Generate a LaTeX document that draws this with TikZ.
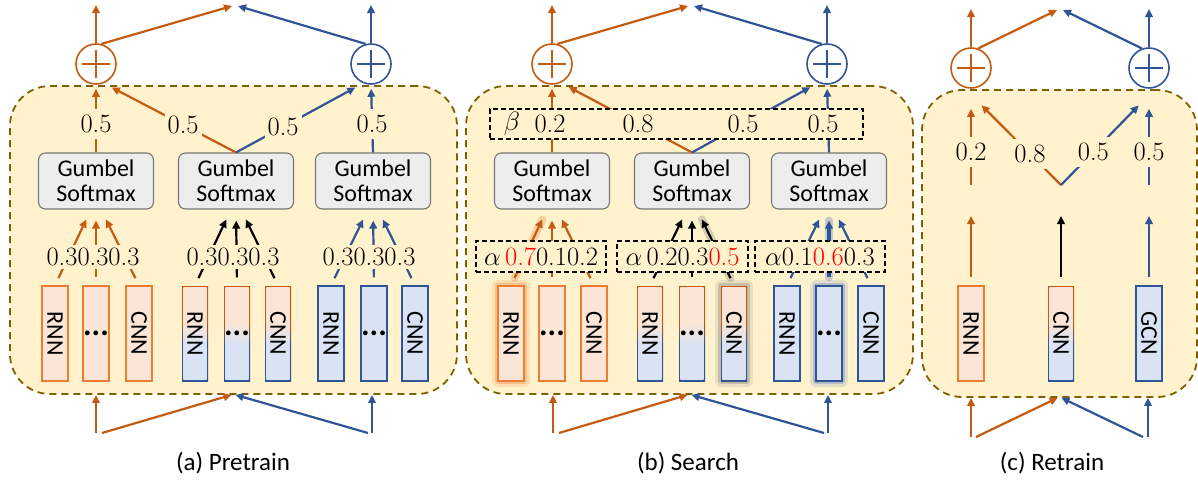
\documentclass[tikz,border=0pt]{standalone}
\usepackage{fix-cm}
\usepackage{fontspec}
\setsansfont{Carlito}
\usetikzlibrary{arrows.meta}

\definecolor{corange}{RGB}{197,90,17}
\definecolor{cblue}{RGB}{47,85,151}
\definecolor{lorange}{RGB}{251,229,214}
\definecolor{borange}{RGB}{237,125,49}
\definecolor{lblue}{RGB}{218,227,243}
\definecolor{gblue}{RGB}{68,114,196}
\definecolor{bgyellow}{RGB}{255,242,204}
\definecolor{bgline}{RGB}{127,96,0}
\definecolor{lgray}{RGB}{237,237,237}
\definecolor{dgray}{RGB}{118,118,118}
\definecolor{hired}{RGB}{255,0,0}

\pgfdeclareverticalshading{mixfill}{100bp}{color(0bp)=(lblue); color(44bp)=(lblue); color(56bp)=(lorange); color(100bp)=(lorange)}
\pgfdeclareverticalshading{mixline}{100bp}{color(0bp)=(cblue); color(44bp)=(cblue); color(56bp)=(corange); color(100bp)=(corange)}

\newcommand{\numfnt}{\fontsize{26.5}{26.5}\selectfont}
\newcommand{\sffnt}{\sffamily\fontsize{24}{25}\selectfont}
\newcommand{\vtxt}[1]{\rotatebox{-90}{#1}}
\newcommand{\hdots}{{\fontsize{32}{32}\selectfont\textbf{...}}}

\begin{document}
\begin{tikzpicture}[x=1pt, y=-1pt,
  panel/.style={draw=bgline, fill=bgyellow, line width=1.8pt, dash pattern=on 7pt off 5pt, rounded corners=40pt},
  gumbel/.style={draw=dgray, fill=lgray, line width=1.1pt, rounded corners=7pt, minimum width=115pt, minimum height=56pt, align=center, font=\sffnt, inner sep=0pt},
  sumnode/.style={circle, draw=#1, line width=1.6pt, minimum size=40pt, inner sep=0pt,
    path picture={\draw[#1, line width=1.8pt]
      ([xshift=-14pt]path picture bounding box.center) -- ([xshift=14pt]path picture bounding box.center)
      ([yshift=-14pt]path picture bounding box.center) -- ([yshift=14pt]path picture bounding box.center);}},
  modbox/.style={minimum width=26pt, minimum height=95pt, inner sep=0pt, line width=1.3pt, font=\sffnt},
  obox/.style={modbox, draw=borange, fill=lorange},
  bbox/.style={modbox, draw=cblue, fill=lblue},
  mixbox/.style={modbox, shade, shading=mixline,
    path picture={\shade[shading=mixfill] ([shift={(1.4pt,1.4pt)}]path picture bounding box.south west) rectangle ([shift={(-1.4pt,-1.4pt)}]path picture bounding box.north east);}},
  glowbox/.style={preaction={draw=#1, draw opacity=.15, line width=12pt, line join=round},
    preaction={draw=#1, draw opacity=.3, line width=6pt, line join=round}},
  arr/.style={-{Triangle[length=8pt, width=7.5pt]}, line width=2.2pt},
  fan/.style={arr, shorten <=8pt, shorten >=11pt},
  glowline/.style={preaction={-, draw=#1, draw opacity=.3, line width=8pt, line cap=round, shorten <=8pt, shorten >=11pt}},
  num/.style={font=\numfnt, text=black, inner sep=2pt},
  numon/.style={num, fill=bgyellow, inner xsep=3pt, inner ysep=6pt},
  abox/.style={draw, dash pattern=on 5pt off 3pt, line width=1.1pt, fill=bgyellow, minimum width=130pt, minimum height=31pt, inner sep=0pt, font=\numfnt},
  caption/.style={font=\sffamily\fontsize{25}{25}\selectfont}
]
\useasboundingbox (0,0) rectangle (1198,482);

% (a) Pretrain
\node[panel, minimum width=447pt, minimum height=308pt] (pa) at (233.5,240) {};
\node[sumnode=corange] (sa1) at (96,64) {};
\node[sumnode=cblue] (sa2) at (371,64) {};
\coordinate (oa1) at (96,5);
\coordinate (oa2) at (371,5);
\coordinate (ta1) at (232,6);
\coordinate (ta2) at (238,6);
\draw[arr, corange] (sa1.north) -- (oa1);
\draw[arr, corange] (sa1.75) -- (ta1);
\draw[arr, cblue] (sa2.105) -- (ta2);
\draw[arr, cblue] (sa2.north) -- (oa2);

\node[gumbel] (ga1) at (96,181) {Gumbel\\Softmax};
\node[gumbel] (ga2) at (236,181) {Gumbel\\Softmax};
\node[gumbel] (ga3) at (373,181) {Gumbel\\Softmax};
\draw[arr, corange, shorten >=4pt] (ga1.north) -- node[numon, pos=.42]{0.5} (sa1.south);
\draw[arr, corange, shorten >=9pt] (ga2.north) -- node[numon, pos=.4]{0.5} (sa1.-68);
\draw[arr, cblue, shorten >=9pt] (ga2.north) -- node[numon, pos=.37]{0.5} (sa2.-112);
\draw[arr, cblue, shorten >=4pt] (ga3.north) -- node[numon, pos=.42]{0.5} (sa2.south);

\node[obox] (ra1) at (55,333.5) {\vtxt{RNN}};
\node[obox] (ma1) at (96,333.5) {\hdots};
\node[obox] (ca1) at (139,333.5) {\vtxt{CNN}};
\node[mixbox] (ra2) at (195,333.5) {\vtxt{RNN}};
\node[mixbox] (ma2) at (237,333.5) {\hdots};
\node[mixbox] (ca2) at (278,333.5) {\vtxt{CNN}};
\node[bbox] (ra3) at (331,333.5) {\vtxt{RNN}};
\node[bbox] (ma3) at (374,333.5) {\hdots};
\node[bbox] (ca3) at (415,333.5) {\vtxt{CNN}};

\draw[fan, corange] (ra1.north) -- ([xshift=-5pt]ga1.south);
\draw[fan, corange] (ma1.north) -- (ga1.south);
\draw[fan, corange] (ca1.north) -- ([xshift=5pt]ga1.south);
\draw[fan, black] (ra2.north) -- ([xshift=-5pt]ga2.south);
\draw[fan, black] (ma2.north) -- (ga2.south);
\draw[fan, black] (ca2.north) -- ([xshift=5pt]ga2.south);
\draw[fan, cblue] (ra3.north) -- ([xshift=-5pt]ga3.south);
\draw[fan, cblue] (ma3.north) -- (ga3.south);
\draw[fan, cblue] (ca3.north) -- ([xshift=5pt]ga3.south);
\node[num, fill=bgyellow, inner sep=3pt] (wa1) at (93,257) {0.30.30.3};
\node[num, fill=bgyellow, inner sep=3pt] (wa2) at (233,257) {0.30.30.3};
\node[num, fill=bgyellow, inner sep=3pt] (wa3) at (369,257) {0.30.30.3};

\coordinate (ia1) at (96,433);
\coordinate (ia2) at (372,433);
\draw[arr, corange] (ia1) -- (ia1 |- pa.south);
\draw[arr, corange] ([xshift=6pt]ia1) -- ([xshift=-2pt]pa.south);
\draw[arr, cblue] ([xshift=-4pt]ia2) -- ([xshift=2pt]pa.south);
\draw[arr, cblue] (ia2) -- (ia2 |- pa.south);
\node[caption] (capa) at (233,463) {(a) Pretrain};

% (b) Search
\node[panel, minimum width=447pt, minimum height=308pt] (pb) at (689.5,240) {};
\node[sumnode=corange] (sb1) at (552,64) {};
\node[sumnode=cblue] (sb2) at (827,64) {};
\coordinate (ob1) at (552,5);
\coordinate (ob2) at (827,5);
\coordinate (tb1) at (688,6);
\coordinate (tb2) at (694,6);
\draw[arr, corange] (sb1.north) -- (ob1);
\draw[arr, corange] (sb1.75) -- (tb1);
\draw[arr, cblue] (sb2.105) -- (tb2);
\draw[arr, cblue] (sb2.north) -- (ob2);

\node[gumbel] (gb1) at (552,181) {Gumbel\\Softmax};
\node[gumbel] (gb2) at (692,181) {Gumbel\\Softmax};
\node[gumbel] (gb3) at (829,181) {Gumbel\\Softmax};
\draw[arr, corange, shorten >=4pt] (gb1.north) -- (sb1.south);
\draw[arr, corange, shorten >=9pt] (gb2.north) -- (sb1.-65);
\draw[arr, cblue, shorten >=9pt] (gb2.north) -- (sb2.-115);
\draw[arr, cblue, shorten >=4pt] (gb3.north) -- (sb2.south);
\node[draw, dash pattern=on 5pt off 3pt, line width=1.1pt, fill=bgyellow, minimum width=373pt, minimum height=30pt] (beta) at (676.5,124) {};
\node[num] (bl) at (512,124) {$\beta$};
\node[num] (b1) at (550,124) {0.2};
\node[num] (b2) at (638,124) {0.8};
\node[num] (b3) at (743,124) {0.5};
\node[num] (b4) at (823,124) {0.5};

\node[obox, glowbox=borange] (rb1) at (511,333.5) {\vtxt{RNN}};
\node[obox] (mb1) at (552,333.5) {\hdots};
\node[obox] (cb1) at (594,333.5) {\vtxt{CNN}};
\node[mixbox] (rb2) at (650,333.5) {\vtxt{RNN}};
\node[mixbox] (mb2) at (692,333.5) {\hdots};
\node[mixbox, glowbox=dgray] (cb2) at (734,333.5) {\vtxt{CNN}};
\node[bbox] (rb3) at (787,333.5) {\vtxt{RNN}};
\node[bbox, glowbox=gblue] (mb3) at (829,333.5) {\hdots};
\node[bbox] (cb3) at (871,333.5) {\vtxt{CNN}};

\draw[fan, corange, glowline=borange] (rb1.north) -- ([xshift=-5pt]gb1.south);
\draw[fan, corange] (mb1.north) -- (gb1.south);
\draw[fan, corange] (cb1.north) -- ([xshift=5pt]gb1.south);
\draw[fan, black] (rb2.north) -- ([xshift=-5pt]gb2.south);
\draw[fan, black] (mb2.north) -- (gb2.south);
\draw[fan, black, glowline=dgray] (cb2.north) -- ([xshift=5pt]gb2.south);
\draw[fan, cblue] (rb3.north) -- ([xshift=-5pt]gb3.south);
\draw[fan, cblue, line width=3.4pt, glowline=gblue] (mb3.north) -- (gb3.south);
\draw[fan, cblue] (cb3.north) -- ([xshift=5pt]gb3.south);
\node[abox] (ab1) at (541,256.5) {$\alpha$\,\textcolor{hired}{0.7}0.10.2};
\node[abox, minimum width=131pt] (ab2) at (682.5,256.5) {$\alpha$\,0.20.3\textcolor{hired}{0.5}};
\node[abox] (ab3) at (820,256.5) {$\alpha$0.1\textcolor{hired}{0.6}0.3};

\coordinate (ib1) at (553,433);
\coordinate (ib2) at (828,433);
\draw[arr, corange] (ib1) -- (ib1 |- pb.south);
\draw[arr, corange] ([xshift=6pt]ib1) -- ([xshift=-2pt]pb.south);
\draw[arr, cblue] ([xshift=-4pt]ib2) -- ([xshift=2pt]pb.south);
\draw[arr, cblue] (ib2) -- (ib2 |- pb.south);
\node[caption] (capb) at (688,463) {(b) Search};

% (c) Retrain
\node[panel, minimum width=275pt, minimum height=307pt] (pc) at (1059.5,243.5) {};
\node[sumnode=corange] (sc1) at (971,68) {};
\node[sumnode=cblue] (sc2) at (1149,68) {};
\coordinate (oc1) at (971,9);
\coordinate (oc2) at (1149,9);
\coordinate (tc1) at (1057,10);
\coordinate (tc2) at (1063,10);
\draw[arr, corange] (sc1.north) -- (oc1);
\draw[arr, corange] (sc1.70) -- (tc1);
\draw[arr, cblue] (sc2.110) -- (tc2);
\draw[arr, cblue] (sc2.north) -- (oc2);

\coordinate (lc1) at (971,185);
\coordinate (vc) at (1061,185);
\coordinate (lc3) at (1149,185);
\draw[arr, corange, shorten >=20pt] (lc1) -- node[numon, pos=.34]{0.2} (sc1.south);
\draw[arr, corange, shorten >=25pt] (vc) -- node[numon, pos=.32]{0.8} (sc1.-110);
\draw[arr, cblue, shorten >=25pt] (vc) -- node[numon, pos=.34]{0.5} (sc2.-70);
\draw[arr, cblue, shorten >=20pt] (lc3) -- node[numon, pos=.34]{0.5} (sc2.south);

\node[obox] (rc) at (971,333.5) {\vtxt{RNN}};
\node[mixbox] (cc) at (1061,333.5) {\vtxt{CNN}};
\node[bbox] (gc) at (1149,333.5) {\vtxt{GCN}};
\coordinate (ec1) at (971,216);
\coordinate (ec2) at (1061,216);
\coordinate (ec3) at (1149,216);
\draw[arr, corange, shorten <=8pt] (rc.north) -- (ec1);
\draw[arr, black, shorten <=8pt] (cc.north) -- (ec2);
\draw[arr, cblue, shorten <=8pt] (gc.north) -- (ec3);

\coordinate (ic1) at (971,437);
\coordinate (ic2) at (1148,437);
\draw[arr, corange] (ic1) -- (ic1 |- pc.south);
\draw[arr, corange] ([xshift=5pt]ic1) -- ([xshift=-2pt]pc.south);
\draw[arr, cblue] ([xshift=-5pt]ic2) -- ([xshift=2pt]pc.south);
\draw[arr, cblue] (ic2) -- (ic2 |- pc.south);
\node[caption] (capc) at (1052,463) {(c) Retrain};
\end{tikzpicture}
\end{document}
